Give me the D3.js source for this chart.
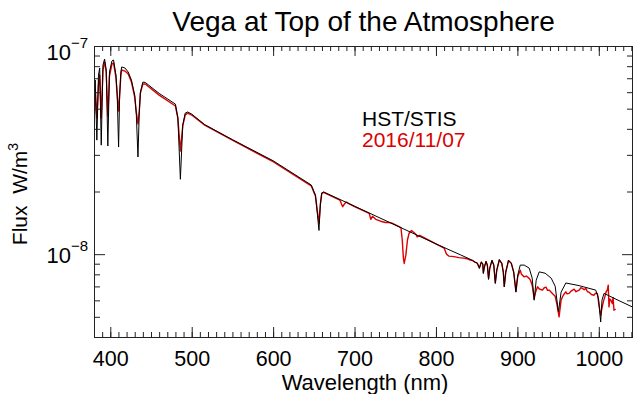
<!DOCTYPE html>
<html>
<head>
<meta charset="utf-8">
<script src="https://cdn.jsdelivr.net/npm/d3@7"></script>
<style>
  body { margin: 0; background: #fff; }
  text { font-family: "Liberation Sans", Arial, Helvetica, sans-serif; }
</style>
</head>
<body>
<svg id="chart" width="634" height="394"></svg>
<script>
// flux values are in units of 1e-8 W/m^3
const fluxUnit = 1e-8;

// HST/STIS reference spectrum
const stisWl = [380.5, 381.5, 383.5, 385.5, 387, 388.9, 391, 393, 395, 397, 399, 402, 404, 407, 408.5, 410.2, 411.5,
  413, 414, 418, 422, 426, 430, 432, 434, 435.5, 437, 440, 443, 460, 480, 483, 486.1, 489, 492, 495, 500, 516, 550,
  600, 646.8, 652, 654.5, 656.3, 658, 659.7, 662, 700, 800, 830, 845,
  847.9, 850.8, 853.3, 855.7, 857.5, 858.2, 859.4, 861.5, 863.1, 864.6, 866.1, 868.8, 871.0, 872.9, 874.7, 877.8,
  880.8, 882.7, 883.9, 885.7, 889.1, 892.5, 895.5, 898.2, 900.4, 903.5, 908.4, 914.5, 918.2, 920.6, 923.1, 926.8,
  934.1, 941.5, 946.4, 950.4, 953.7, 959.5, 975.8, 996.2, 999.6, 1002.3, 1003.9, 1006.4, 1024.8, 1042];
const stisFlux = [5.81, 6.86, 3.53, 7.25, 7.84, 3.34, 8.10, 8.66, 7.67, 3.31, 7.50, 8.47, 8.57, 7.25, 5.81, 3.27, 5.81,
  7.50, 7.93, 7.84, 7.50, 6.86, 5.81, 4.66, 2.93, 4.66, 6.01, 6.71, 6.68, 5.92, 5.26, 4.51, 2.29, 4.17, 4.76, 4.82, 4.71, 4.19, 3.55,
  2.81, 2.15, 1.92, 1.54, 1.30, 1.72, 1.97, 1.99, 1.70, 1.12, 0.993, 0.934,
  0.915, 0.905, 0.854, 0.918, 0.896, 0.807, 0.866, 0.925, 0.886, 0.756, 0.857, 0.936, 0.886, 0.723, 0.838, 0.943,
  0.905, 0.819, 0.697, 0.819, 0.936, 0.905, 0.819, 0.659, 0.792, 0.886, 0.886, 0.857, 0.767, 0.601, 0.750, 0.822,
  0.810, 0.767, 0.702, 0.528, 0.657, 0.727, 0.706, 0.672, 0.614, 0.472, 0.601, 0.648, 0.598, 0.556];

// 2016/11/07 measurement
const obsWl = [380.5, 381.5, 383.5, 385.5, 387, 388.9, 391, 393, 395, 397, 399, 402, 404, 407, 408.5, 410.2, 411.5,
  413, 414, 418, 422, 426, 430, 432, 434, 435.5, 437, 440, 443, 460, 480, 483, 486.1, 489, 492, 495, 500, 516, 550,
  600, 646.8, 652, 654.5, 656.3, 658, 659.7, 662, 682, 684, 685.5, 687.5, 690, 693, 700, 718, 720, 722, 726, 732,
  738, 742, 746, 757, 758.6, 760, 761, 763, 765, 767, 770, 775, 777, 780, 800, 810, 813, 816, 822, 828, 834, 838,
  842, 845, 847.9, 850.8, 853.3, 855.7, 857.5, 858.2, 859.4, 861.5, 863.1, 864.6, 866.1, 868.8, 871.0, 872.9, 874.7,
  877.8, 880.8, 882.7, 883.9, 885.7, 889.1, 892.5, 895.5, 898.2, 900.4, 903.5, 905, 908.4, 911, 914.5, 916, 918.2,
  920.6, 922.5, 924.7, 927, 930.8, 933, 935.3, 937, 939, 941, 943.9, 946.4, 948.8, 951.2, 953.7, 955.3, 957, 959.5,
  961, 963.5, 966, 969.7, 972, 975.8, 978, 979.9, 982, 984.1, 986, 988.1, 991, 994.2, 996, 998.2, 1000.3, 1002.3,
  1004.6, 1006, 1007.6, 1009, 1010.4, 1011.6, 1012.5, 1013.5, 1014.9, 1016.6, 1017.5, 1018.6, 1020.7];
const obsFlux = [4.66, 6.14, 4.51, 6.49, 7.25, 4.51, 7.67, 8.38, 7.50, 4.61, 7.17, 8.19, 8.29, 7.02, 5.81, 4.87, 5.81,
  7.25, 7.67, 7.58, 7.33, 6.71, 5.69, 4.82, 4.22, 4.82, 5.94, 6.57, 6.57, 5.81, 5.15, 4.51, 3.13, 4.13, 4.66, 4.76, 4.66, 4.17, 3.53,
  2.78, 2.13, 1.90, 1.59, 1.41, 1.74, 1.95, 1.98, 1.82, 1.74, 1.69, 1.74, 1.78, 1.75, 1.69, 1.57, 1.47, 1.52, 1.47, 1.44,
  1.42, 1.42, 1.41, 1.34, 1.17, 0.957, 0.902, 0.989, 1.17, 1.26, 1.30, 1.25, 1.21, 1.23, 1.12, 1.07, 1.00, 0.978, 0.973, 0.962, 0.957, 0.951,
  0.936, 0.931, 0.915, 0.905, 0.86, 0.915, 0.896, 0.815, 0.866, 0.92, 0.886, 0.765, 0.857, 0.93, 0.886, 0.73, 0.838,
  0.935, 0.905, 0.819, 0.70, 0.819, 0.93, 0.905, 0.819, 0.66, 0.78, 0.838, 0.80, 0.778, 0.785, 0.765, 0.75, 0.709,
  0.612, 0.66, 0.697, 0.68, 0.672, 0.69, 0.694, 0.67, 0.672, 0.66, 0.642, 0.628, 0.568, 0.500, 0.601, 0.623, 0.64, 0.659,
  0.645, 0.648, 0.665, 0.679, 0.66, 0.672, 0.69, 0.685, 0.675, 0.685, 0.66, 0.657, 0.64, 0.635, 0.65, 0.648, 0.568, 0.509,
  0.568, 0.60, 0.628, 0.66, 0.672, 0.709, 0.558, 0.61, 0.601, 0.579, 0.62, 0.538, 0.545];

const xMajor = [400, 500, 600, 700, 800, 900, 1000];
const xMinor = d3.range(380, 1041, 10);
const yMajor = [1e-7, 1e-8];
const yMinor = [5e-9, 6e-9, 7e-9, 8e-9, 9e-9, 2e-8, 3e-8, 4e-8, 5e-8, 6e-8, 7e-8, 8e-8, 9e-8];
const legendLabels = ['HST/STIS', '2016/11/07'];
const legendColors = ['#000', '#dc0000'];

const plotLeft = 94, plotRight = 633, plotTop = 46, plotBottom = 337;
const svg = d3.select('#chart');

const x = d3.scaleLinear().domain([380, 1042]).range([plotLeft, plotRight]);
const y = d3.scaleLog().domain([4e-9, 1e-7]).range([plotBottom, plotTop]);

svg.append('defs').append('clipPath').attr('id', 'plot')
  .append('rect').attr('x', plotLeft).attr('y', plotTop)
  .attr('width', plotRight - plotLeft).attr('height', plotBottom - plotTop);

const line = d3.line().x(d => x(d[0])).y(d => y(d[1] * fluxUnit));

svg.append('path')
  .datum(d3.zip(obsWl, obsFlux))
  .attr('clip-path', 'url(#plot)')
  .attr('fill', 'none')
  .attr('stroke', legendColors[1])
  .attr('stroke-width', 1.4)
  .attr('stroke-linejoin', 'round')
  .attr('d', line);

svg.append('path')
  .datum(d3.zip(stisWl, stisFlux))
  .attr('clip-path', 'url(#plot)')
  .attr('fill', 'none')
  .attr('stroke', legendColors[0])
  .attr('stroke-width', 1)
  .attr('stroke-linejoin', 'round')
  .attr('d', line);

// frame
svg.append('rect')
  .attr('x', plotLeft + 0.5).attr('y', plotTop + 0.5)
  .attr('width', plotRight - plotLeft - 1).attr('height', plotBottom - plotTop)
  .attr('fill', 'none').attr('stroke', '#222').attr('stroke-width', 1);

function clean(g) {
  g.select('.domain').remove();
  g.selectAll('line').attr('stroke', '#222');
}

// x ticks
svg.append('g').attr('transform', `translate(0,${plotBottom})`)
  .call(d3.axisBottom(x).tickValues(xMinor).tickSize(-5).tickFormat('')).call(clean);
svg.append('g').attr('transform', `translate(0,${plotBottom})`)
  .call(d3.axisBottom(x).tickValues(xMajor).tickSize(-10).tickPadding(14).tickFormat(d3.format('d')))
  .call(clean)
  .call(g => g.attr('font-size', null).attr('font-family', null))
  .call(g => g.selectAll('text').attr('font-size', 21.5).attr('fill', '#000'));
svg.append('g').attr('transform', `translate(0,${plotTop})`)
  .call(d3.axisTop(x).tickValues(xMinor).tickSize(-5).tickFormat('')).call(clean);
svg.append('g').attr('transform', `translate(0,${plotTop})`)
  .call(d3.axisTop(x).tickValues(xMajor).tickSize(-10).tickFormat('')).call(clean);

// y ticks
svg.append('g').attr('transform', `translate(${plotLeft},0)`)
  .call(d3.axisLeft(y).tickValues(yMinor).tickSize(-6).tickFormat('')).call(clean);
svg.append('g').attr('transform', `translate(${plotLeft},0)`)
  .call(d3.axisLeft(y).tickValues(yMajor).tickSize(-11).tickFormat('')).call(clean);
svg.append('g').attr('transform', `translate(${plotRight},0)`)
  .call(d3.axisRight(y).tickValues(yMinor).tickSize(-6).tickFormat('')).call(clean);
svg.append('g').attr('transform', `translate(${plotRight},0)`)
  .call(d3.axisRight(y).tickValues(yMajor).tickSize(-11).tickFormat('')).call(clean);

// y tick labels: 10^-7, 10^-8
svg.append('g').selectAll('text')
  .data(yMajor)
  .join('text')
  .attr('text-anchor', 'end')
  .attr('x', plotLeft - 6)
  .attr('y', d => Math.max(y(d) + 9, plotTop + 14))
  .attr('font-size', 22)
  .attr('fill', '#000')
  .each(function (d) {
    const t = d3.select(this);
    t.append('tspan').text('10');
    t.append('tspan').attr('font-size', 15).attr('dy', -12).text('\u2212' + Math.round(-Math.log10(d)));
  });

// titles
svg.append('text')
  .attr('x', (plotLeft + plotRight) / 2).attr('y', 31)
  .attr('text-anchor', 'middle').attr('font-size', 28)
  .text('Vega at Top of the Atmosphere');

svg.append('text')
  .attr('x', 365).attr('y', 390)
  .attr('text-anchor', 'middle').attr('font-size', 22)
  .text('Wavelength (nm)');

const yTitle = svg.append('text')
  .attr('transform', 'translate(27,194) rotate(-90)')
  .attr('text-anchor', 'middle').attr('font-size', 21);
yTitle.append('tspan').text('Flux\u00a0\u00a0W/m');
yTitle.append('tspan').attr('font-size', 14).attr('dy', -9).text('3');

// legend
svg.append('g').selectAll('text')
  .data(legendLabels)
  .join('text')
  .attr('x', 362)
  .attr('y', (d, i) => 126 + i * 21)
  .attr('font-size', 21)
  .attr('fill', (d, i) => legendColors[i])
  .text(d => d);
</script>
</body>
</html>
